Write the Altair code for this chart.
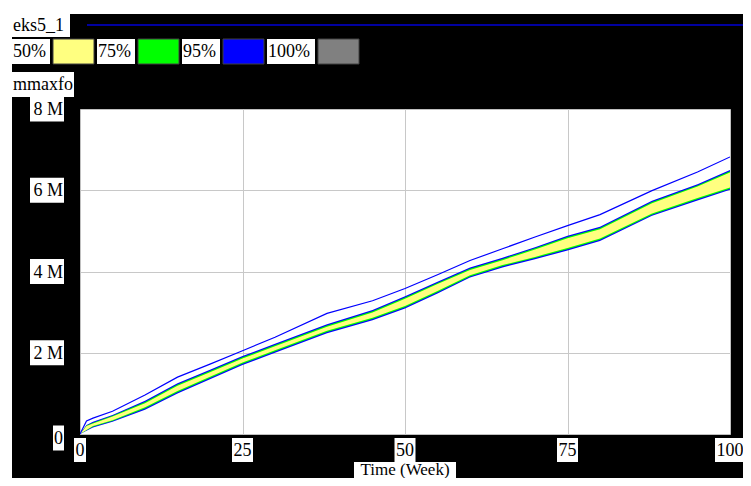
import altair as alt
import pandas as pd

# ---- data (values in millions) ----
t = [0, 1, 2, 5, 10, 15, 20, 25, 30, 38, 45, 50, 55, 60, 65, 70, 75, 80, 88, 95, 100]
max_line = [0, 0.32, 0.39, 0.56, 0.96, 1.40, 1.72, 2.05, 2.38, 2.97, 3.28, 3.58, 3.92, 4.27, 4.56, 4.85, 5.13, 5.40, 5.99, 6.45, 6.82]
hi95 = [0, 0.22, 0.30, 0.47, 0.82, 1.25, 1.58, 1.92, 2.22, 2.70, 3.05, 3.39, 3.75, 4.10, 4.34, 4.60, 4.88, 5.10, 5.74, 6.15, 6.50]
hi75 = [0, 0.21, 0.28, 0.45, 0.79, 1.22, 1.55, 1.89, 2.19, 2.67, 3.02, 3.36, 3.72, 4.07, 4.31, 4.57, 4.85, 5.07, 5.71, 6.12, 6.47]
hi50 = [0, 0.20, 0.26, 0.43, 0.76, 1.19, 1.52, 1.86, 2.16, 2.64, 2.99, 3.33, 3.69, 4.04, 4.28, 4.54, 4.82, 5.04, 5.68, 6.09, 6.44]
lo50 = [0, 0.10, 0.20, 0.34, 0.66, 1.06, 1.41, 1.76, 2.06, 2.54, 2.86, 3.15, 3.52, 3.91, 4.16, 4.36, 4.58, 4.81, 5.43, 5.81, 6.07]
lo75 = [0, 0.09, 0.18, 0.32, 0.63, 1.03, 1.38, 1.73, 2.03, 2.51, 2.83, 3.12, 3.49, 3.88, 4.13, 4.33, 4.55, 4.78, 5.40, 5.78, 6.04]
lo95 = [0, 0.08, 0.16, 0.30, 0.60, 1.00, 1.35, 1.70, 2.00, 2.48, 2.80, 3.09, 3.46, 3.85, 4.10, 4.30, 4.52, 4.75, 5.37, 5.75, 6.01]

x_ticks = [0, 25, 50, 75, 100]
x_tick_labels = ["0", "25", "50", "75", "100"]
y_ticks = [0, 2, 4, 6, 8]
y_tick_labels = ["0", "2 M", "4 M", "6 M", "8 M"]
legend_labels = ["50%", "75%", "95%", "100%"]
legend_colors = ["#ffff80", "#00ff00", "#0000ff", "#808080"]
run_name = "eks5_1"
var_name = "mmaxfo"
x_title = "Time (Week)"

# ---- layout ----
W, H = 650, 325
OX, OY = 80, 109          # page position of plot origin
FONT = "Liberation Serif"
FS = 18

df = pd.DataFrame({"t": t, "mx": max_line, "hi95": hi95, "hi75": hi75, "hi50": hi50,
                   "lo50": lo50, "lo75": lo75, "lo95": lo95})
xs = alt.Scale(domain=[0, 100], nice=False, zero=False)
ys = alt.Scale(domain=[0, 8], nice=False, zero=False)


def P(x, y):
    return x - OX, y - OY


rects = []
texts = []


def add_rect(x0, y0, x1, y1, fill, stroke="none"):
    a = P(x0, y0)
    b = P(x1, y1)
    rects.append({"x": a[0], "y": a[1], "x2": b[0], "y2": b[1], "fill": fill, "stroke": stroke})


def add_text(x, y, s):
    a = P(x, y)
    texts.append({"x": a[0], "y": a[1], "text": s})


# white strips above / left of the black panel
add_rect(0, 0, 760, 14, "white")
add_rect(0, 0, 12, 490, "white")
# header run name
add_rect(12, 14, 70, 37, "white")
add_text(13, 26, run_name)
# legend row
lx = 12
for lab, col in zip(legend_labels, legend_colors):
    w = 38 if len(lab) == 3 else 48
    add_rect(lx, 39, lx + w, 64, "white")
    add_text(lx + 1, 52, lab)
    sx = lx + w + 3
    add_rect(sx, 39, sx + 41, 64, col, "#404040")
    lx = sx + 44
# variable name
add_rect(12, 72, 74, 97, "white")
add_text(13, 85, var_name)

rdf = pd.DataFrame(rects)
tdf = pd.DataFrame(texts)

deco_rect = alt.Chart(rdf).mark_rect(strokeWidth=1).encode(
    x=alt.X("x:Q", scale=None, axis=None), x2="x2:Q",
    y=alt.Y("y:Q", scale=None, axis=None), y2="y2:Q",
    fill=alt.Fill("fill:N", scale=None, legend=None),
    stroke=alt.Stroke("stroke:N", scale=None, legend=None),
)
deco_text = alt.Chart(tdf).mark_text(font=FONT, fontSize=FS, baseline="middle", align="left", color="black").encode(
    x=alt.X("x:Q", scale=None, axis=None),
    y=alt.Y("y:Q", scale=None, axis=None),
    text="text:N",
)
hx0, hy = P(87, 25)
hx1, _ = P(760, 25)
header_line = alt.Chart(pd.DataFrame({"a": [0]})).mark_rule(color="#0000a0", strokeWidth=2).encode(
    x=alt.value(hx0), x2=alt.value(hx1), y=alt.value(hy))

# ---- data marks ----
base = alt.Chart(df)
grid_axis_x = alt.Axis(values=[25, 50, 75], grid=True, labels=False, ticks=False,
                       domain=False, title=None, gridColor="#c8c8c8", gridWidth=1)
grid_axis_y = alt.Axis(values=[2, 4, 6], grid=True, labels=False, ticks=False,
                       domain=False, title=None, gridColor="#c8c8c8", gridWidth=1)
band95 = base.mark_area(color="#0000ff", clip=True).encode(
    x=alt.X("t:Q", scale=xs, axis=grid_axis_x),
    y=alt.Y("lo95:Q", scale=ys, axis=grid_axis_y),
    y2="hi95:Q",
)
band75 = base.mark_area(color="#00ff00", clip=True).encode(
    x=alt.X("t:Q", scale=xs, axis=None), y=alt.Y("lo75:Q", scale=ys, axis=None), y2="hi75:Q")
band50 = base.mark_area(color="#ffff80", clip=True).encode(
    x=alt.X("t:Q", scale=xs, axis=None), y=alt.Y("lo50:Q", scale=ys, axis=None), y2="hi50:Q")
top_line = base.mark_line(color="#0000ff", strokeWidth=1.2, clip=True).encode(
    x=alt.X("t:Q", scale=xs, axis=None), y=alt.Y("mx:Q", scale=ys, axis=None))

# ---- tick label boxes ----
tick_layers = []
TY0 = 438 - OY
for v, lab in zip(x_ticks, x_tick_labels):
    w = 9 * len(lab) + 3
    d = alt.Chart(pd.DataFrame({"t": [v], "lab": [lab]}))
    tick_layers.append(d.mark_rect(color="white", xOffset=-w / 2, x2Offset=w / 2).encode(
        x=alt.X("t:Q", scale=xs, axis=None), x2="t:Q", y=alt.value(TY0), y2=alt.value(TY0 + 24)))
    tick_layers.append(d.mark_text(font=FONT, fontSize=FS, baseline="middle", align="center", color="black").encode(
        x=alt.X("t:Q", scale=xs, axis=None), y=alt.value(TY0 + 13), text="lab:N"))
for v, lab in zip(y_ticks, y_tick_labels):
    w = 11 if len(lab) == 1 else 34
    off = 4 if v == 0 else 0
    d = alt.Chart(pd.DataFrame({"v": [v], "lab": [lab]}))
    xr = 64 - OX
    tick_layers.append(d.mark_rect(color="white", yOffset=-12.5 + off, y2Offset=12.5 + off).encode(
        y=alt.Y("v:Q", scale=ys, axis=None), y2="v:Q", x=alt.value(xr - w), x2=alt.value(xr)))
    tick_layers.append(d.mark_text(font=FONT, fontSize=FS, baseline="middle", align="right", color="black",
                                   dy=off + 1).encode(
        y=alt.Y("v:Q", scale=ys, axis=None), x=alt.value(xr - 1), text="lab:N"))
# axis title
d = alt.Chart(pd.DataFrame({"t": [50], "lab": [x_title]}))
TTY0 = 462 - OY
tick_layers.append(d.mark_rect(color="white", xOffset=-51, x2Offset=51).encode(
    x=alt.X("t:Q", scale=xs, axis=None), x2="t:Q", y=alt.value(TTY0), y2=alt.value(TTY0 + 20)))
tick_layers.append(d.mark_text(font=FONT, fontSize=17, baseline="middle", align="center", color="black").encode(
    x=alt.X("t:Q", scale=xs, axis=None), y=alt.value(TTY0 + 8), text="lab:N"))

chart = alt.layer(
    band95, band75, band50, top_line, deco_rect, deco_text, header_line, *tick_layers
).resolve_scale(x="independent", y="independent").properties(
    width=W, height=H,
    padding={"left": 72, "top": 101, "right": 13, "bottom": 44},
    autosize=alt.AutoSizeParams(type="none"),
    background="black",
).configure_view(fill="white", stroke="#c0c0c0")

chart.save("out.html", embed_options={"renderer": "svg", "actions": False})
